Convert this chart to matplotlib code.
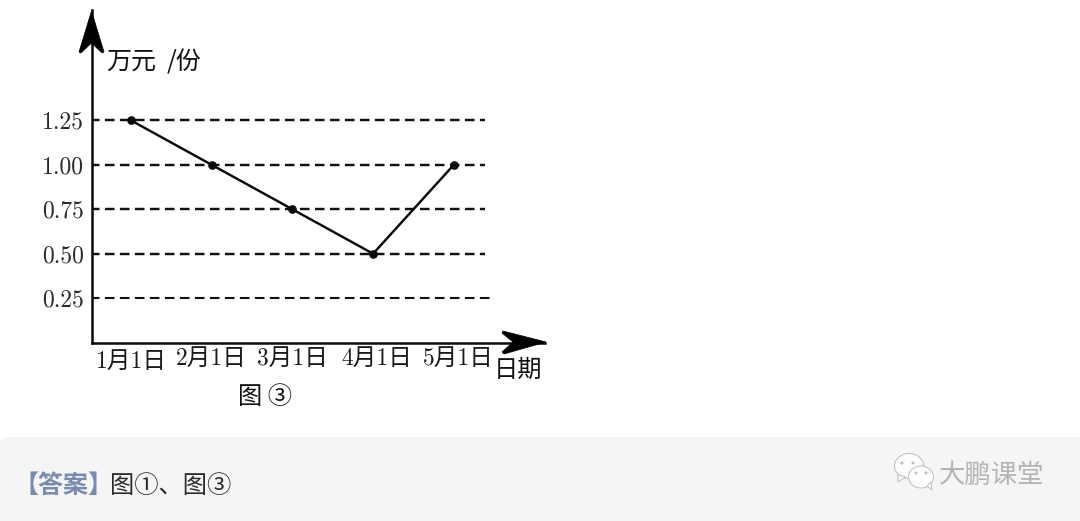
import matplotlib
matplotlib.use("Agg")
import matplotlib.pyplot as plt
from matplotlib.patches import FancyBboxPatch, Polygon, Ellipse

W, H = 1080, 521
SERIF = ["cmr10", "Noto Sans CJK SC", "DejaVu Sans"]
SANS = ["Noto Sans CJK SC", "DejaVu Sans"]

# values
months = ["1月1日", "2月1日", "3月1日", "4月1日", "5月1日"]
prices = [1.25, 1.00, 0.75, 0.50, 1.00]
y_ticks = [0.25, 0.50, 0.75, 1.00, 1.25]
y_labels = ["0.25", "0.50", "0.75", "1.00", "1.25"]
grid_ends = [4.47, 4.39, 4.39, 4.39, 4.39]

plt.rcParams["axes.formatter.use_mathtext"] = True
plt.rcParams["lines.scale_dashes"] = False

fig = plt.figure(figsize=(W / 100, H / 100), dpi=100, facecolor="white")

# page layer, measured in pixels
page = fig.add_axes([0, 0, 1, 1])
page.set_xlim(0, W)
page.set_ylim(H, 0)
page.axis("off")

page.add_patch(FancyBboxPatch((0, 437), W + 20, 120, boxstyle="round,pad=0,rounding_size=7",
                              facecolor="#f5f5f6", edgecolor="none"))

# chart layer
px_left, px_right, px_top, px_bottom = 92, 545, 10, 342.6
ax = fig.add_axes([px_left / W, 1 - px_bottom / H, (px_right - px_left) / W, (px_bottom - px_top) / H])
ax.patch.set_alpha(0)
ax.set_xlim(-0.483, 5.13)
ax.set_ylim(0, 1.871)
for side in ["top", "right"]:
    ax.spines[side].set_visible(False)
for side in ["left", "bottom"]:
    ax.spines[side].set_linewidth(1.8)
    ax.spines[side].set_color("#0a0a0a")

for y, end in zip(y_ticks, grid_ends):
    ax.plot([-0.483, end], [y, y], color="#111111", lw=1.75 if y > 0.3 else 1.5,
            linestyle=(1.5, (6.9, 3.9)), clip_on=False, zorder=2)
ax.plot(range(len(months)), prices, color="#0a0a0a", lw=1.75, marker="o", ms=5.2, zorder=3)

ax.set_xticks([])
ax.set_yticks(y_ticks)
ax.set_yticklabels(y_labels, family=SERIF, fontsize=17, color="#2a2a2a")
ax.tick_params(axis="y", length=0, pad=6)

# arrow heads
top = fig.add_axes([0, 0, 1, 1])
top.set_xlim(0, W)
top.set_ylim(H, 0)
top.axis("off")
top.patch.set_alpha(0)
top.add_patch(Polygon([(91.5, 11), (79, 52), (81, 53), (91.5, 43), (102, 53), (104, 52)],
                      closed=True, facecolor="black", edgecolor="black", lw=0.5))
top.add_patch(Polygon([(546, 342), (503, 331), (502, 333), (513, 342), (502, 352), (504, 354)],
                      closed=True, facecolor="black", edgecolor="black", lw=0.5))

label_x = [131, 211, 292, 377, 458]
label_y = [362, 359, 359, 359, 359]
for m, x, y in zip(months, label_x, label_y):
    top.text(x, y, m, family=SERIF, fontsize=17, color="#1a1a1a", ha="center", va="center")

top.text(106, 62, "万元", family=SANS, fontsize=18, color="#111111", va="center")
top.text(167, 62, "/份", family=SANS, fontsize=18, color="#111111", va="center")
top.text(494, 370, "日期", family=SANS, fontsize=17.5, color="#111111", va="center")
top.text(238, 397, "图 ③", family=SANS, fontsize=17.5, color="#111111", va="center")

# answer line
top.text(13, 486, "【答案】", family=SANS, fontsize=18, fontweight="bold", color="#7a8bae", va="center")
top.text(110, 486, "图①、图③", family=SANS, fontsize=17.5, color="#2b2b2b", va="center")

# watermark
top.add_patch(Ellipse((909, 466), 29, 25, facecolor="#fcfcfc", edgecolor="#bdbdbd", lw=0.7))
top.add_patch(Polygon([(898, 475), (898, 482), (906, 477)], closed=True, facecolor="#fcfcfc",
                      edgecolor="#bdbdbd", lw=0.7))
top.add_patch(Ellipse((921, 477), 25, 22, facecolor="#fcfcfc", edgecolor="#bdbdbd", lw=0.7))
top.add_patch(Polygon([(927, 486), (932, 490), (931, 482)], closed=True, facecolor="#fcfcfc",
                      edgecolor="#bdbdbd", lw=0.7))
for x, y in [(902, 463), (913, 463), (916, 473), (926, 473)]:
    top.add_patch(Ellipse((x, y), 3, 3, facecolor="#c0c0c0", edgecolor="none"))
top.text(939, 475, "大鹏课堂", family=SANS, fontsize=19, color="#b4b4b4", va="center")

fig.savefig("out.png", dpi=100)
